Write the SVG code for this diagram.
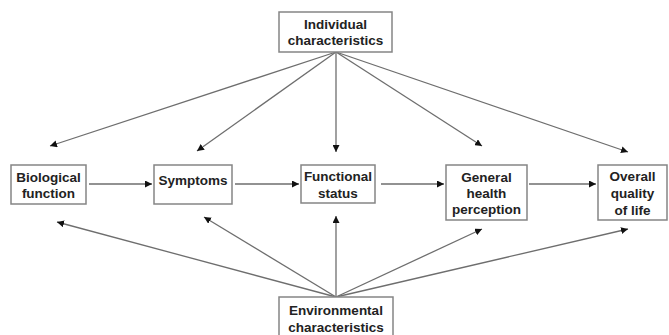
<svg xmlns="http://www.w3.org/2000/svg" width="669" height="335" viewBox="0 0 669 335">
<defs>
<marker id="ah" viewBox="0 0 10 10" refX="10" refY="5" markerWidth="7" markerHeight="7" markerUnits="userSpaceOnUse" orient="auto">
<path d="M0,0 L10,5 L0,10 z" fill="#111"/>
</marker>
<style>
.box{fill:#fff;stroke:#858585;stroke-width:1.5}
.t{font-family:"Liberation Sans",Arial,sans-serif;font-weight:bold;font-size:13.5px;fill:#222;text-anchor:middle}
.c{stroke:#6e6e6e;stroke-width:1.3;fill:none;marker-end:url(#ah)}
</style>
</defs>
<rect width="669" height="335" fill="#fff"/>
<g id="connectors">
<line class="c" x1="89" y1="184" x2="152" y2="184"/>
<line class="c" x1="235" y1="184" x2="299" y2="184"/>
<line class="c" x1="381" y1="184" x2="444" y2="184"/>
<line class="c" x1="529" y1="184" x2="596" y2="184"/>
<line class="c" x1="336" y1="52" x2="50" y2="146"/>
<line class="c" x1="336" y1="52" x2="197" y2="151"/>
<line class="c" x1="336" y1="52" x2="336" y2="152"/>
<line class="c" x1="336" y1="52" x2="482" y2="146"/>
<line class="c" x1="336" y1="52" x2="628" y2="152"/>
<line class="c" x1="336" y1="297" x2="57" y2="222"/>
<line class="c" x1="336" y1="297" x2="204" y2="217"/>
<line class="c" x1="336" y1="297" x2="336" y2="216"/>
<line class="c" x1="336" y1="297" x2="482" y2="229"/>
<line class="c" x1="336" y1="297" x2="628" y2="229"/>
</g>
<g id="individual">
<rect class="box" x="279" y="12" width="113" height="40"/>
<text class="t" x="335.5" y="29">Individual</text>
<text class="t" x="335.5" y="45">characteristics</text>
</g>
<g id="environmental">
<rect class="box" x="279" y="297" width="114" height="40"/>
<text class="t" x="336" y="315">Environmental</text>
<text class="t" x="336" y="332">characteristics</text>
</g>
<g id="biological">
<rect class="box" x="11" y="165" width="75" height="39"/>
<text class="t" x="48.5" y="182">Biological</text>
<text class="t" x="48.5" y="198">function</text>
</g>
<g id="symptoms">
<rect class="box" x="154" y="165" width="78" height="39"/>
<text class="t" x="193" y="185">Symptoms</text>
</g>
<g id="functional">
<rect class="box" x="301" y="165" width="74" height="38"/>
<text class="t" x="338" y="181">Functional</text>
<text class="t" x="338" y="198">status</text>
</g>
<g id="general">
<rect class="box" x="446" y="165" width="81" height="55"/>
<text class="t" x="486.5" y="182">General</text>
<text class="t" x="486.5" y="198">health</text>
<text class="t" x="486.5" y="214">perception</text>
</g>
<g id="overall">
<rect class="box" x="598" y="165" width="69" height="55"/>
<text class="t" x="632.5" y="181">Overall</text>
<text class="t" x="632.5" y="198">quality</text>
<text class="t" x="632.5" y="215">of life</text>
</g>
</svg>
